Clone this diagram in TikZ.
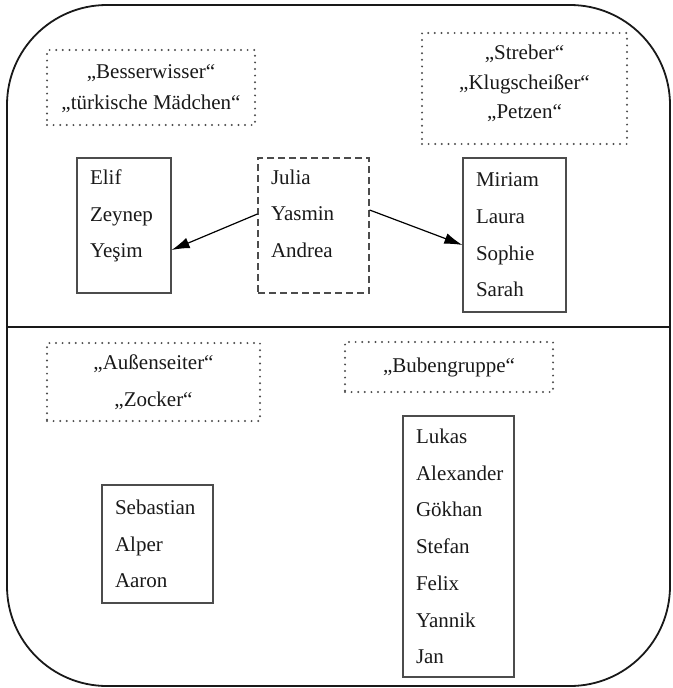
\documentclass[tikz,border=0pt]{standalone}
\usepackage{fontspec}
\setmainfont{Liberation Serif}
\usetikzlibrary{arrows.meta}

\begin{document}
\begin{tikzpicture}[x=1pt, y=-1pt,
	every node/.style={font=\fontsize{21}{36.7}\selectfont, text=black!90},
	tagbox/.style={draw=black!70, line width=2.2pt, dash pattern=on 0pt off 6.6pt, line cap=round, align=center, inner sep=0pt},
	namebox/.style={draw=black!70, line width=1.2pt, align=left, inner ysep=0pt, inner xsep=13pt},
	openbox/.style={namebox, dash pattern=on 7pt off 4pt},
	link/.style={line width=1.2pt, -{Latex[length=18pt,width=11pt]}}]
	\useasboundingbox (0,0) rectangle (672,688);
	% Rahmen
	\draw[line width=1.8pt, black!90, rounded corners=100pt] (7,5) rectangle (670,686);
	\coordinate (midL) at (7,327);
	\coordinate (midR) at (670,327);
	\draw[line width=1.6pt, black!90] (midL) -- (midR);
	% Mädchen
	\node[tagbox, minimum width=208pt, minimum height=75pt, font=\fontsize{21}{31}\selectfont, text depth=0pt] (besser) at (151,87.5) {„Besserwisser“\\„türkische Mädchen“};
	\node[tagbox, minimum width=205pt, minimum height=111pt, font=\fontsize{21}{29.5}\selectfont, text depth=13pt] (streber) at (524.5,88.5) {„Streber“\\„Klugscheißer“\\„Petzen“};
	\node[namebox, text width=68pt, minimum height=135pt, text depth=97pt] (elif) at (124,225.5) {Elif\\Zeynep\\Yeşim};
	\node[openbox, text width=85pt, minimum height=135pt, text depth=97pt] (julia) at (313.5,225.5) {Julia\\Yasmin\\Andrea};
	\node[namebox, text width=77pt, minimum height=154pt] (miriam) at (514.5,235) {Miriam\\Laura\\Sophie\\Sarah};
	\draw[link] ([yshift=11.5pt]julia.west) -- ([yshift=-24.5pt]elif.east);
	\draw[link] ([yshift=15.5pt]julia.east) -- ([yshift=-10pt]miriam.west);
	% Jungen
	\node[tagbox, minimum width=213pt, minimum height=78pt] (aussen) at (153.5,382) {„Außenseiter“\\„Zocker“};
	\node[tagbox, minimum width=208pt, minimum height=50pt] (buben) at (449,367) {„Bubengruppe“};
	\node[namebox, text width=85pt, minimum height=118pt] (sebastian) at (157.5,544) {Sebastian\\Alper\\Aaron};
	\node[namebox, text width=85pt, minimum height=261pt] (lukas) at (458.5,546.5) {Lukas\\Alexander\\Gökhan\\Stefan\\Felix\\Yannik\\Jan};
\end{tikzpicture}
\end{document}
